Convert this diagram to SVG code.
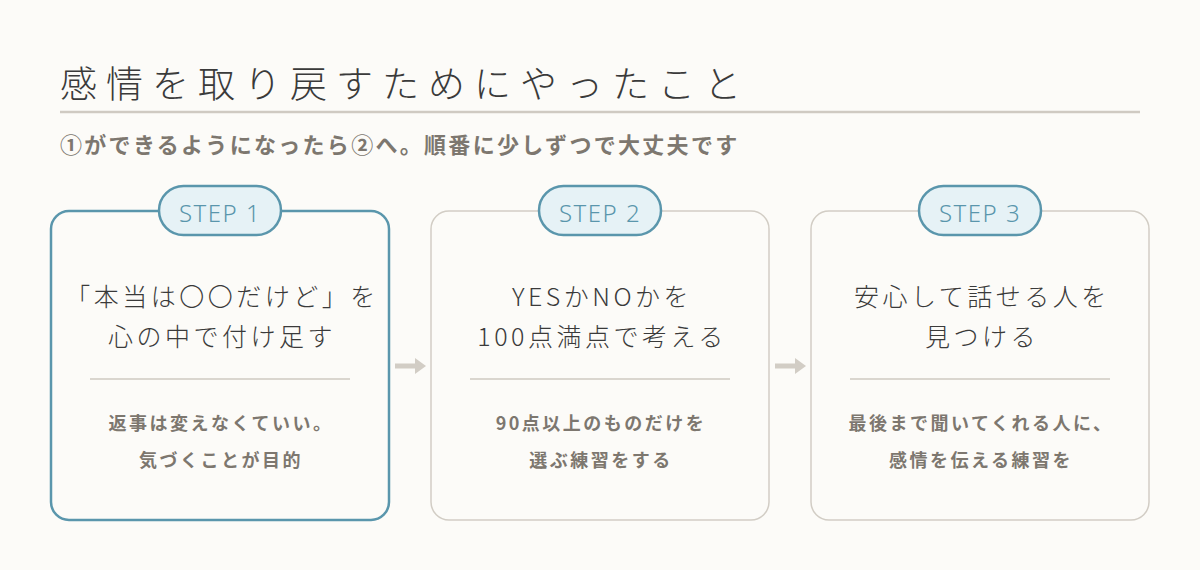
<svg xmlns="http://www.w3.org/2000/svg" width="1200" height="570" viewBox="0 0 1200 570">
<style>
.t{font-family:"Noto Sans CJK JP","Noto Sans",sans-serif}
.card{fill:#fcfbf8;stroke:#d2cdc5;stroke-width:1.5}
.act{stroke:#5a96ac;stroke-width:2.5}
.pill{fill:#e6f2f6;stroke:#5a96ac;stroke-width:2.5}
.pt{font-family:"Noto Sans","Noto Sans CJK JP",sans-serif;font-weight:300;font-size:24px;fill:#5a96ac;text-anchor:middle;letter-spacing:1.5px}
.main{font-size:25px;font-weight:300;fill:#3a3a3a;text-anchor:middle;letter-spacing:3.5px}
.sub{font-size:18px;font-weight:bold;fill:#7d776f;text-anchor:middle;letter-spacing:2.5px}
.div{stroke:#cfcac2;stroke-width:1.5}
</style>
<defs><marker id="ah" markerWidth="11" markerHeight="16" refX="0" refY="8" orient="auto" markerUnits="userSpaceOnUse"><path d="M0,0 L11,8 L0,16 Z" fill="#d2cdc5"/></marker></defs>
<rect width="1200" height="570" fill="#fcfbf8"/>
<text class="t" x="60" y="98" font-size="37" font-weight="300" fill="#3a3a3a" letter-spacing="9">感情を取り戻すためにやったこと</text>
<line x1="60" y1="112" x2="1140" y2="112" stroke="#cfcac2" stroke-width="2.5"/>
<text class="t" x="60" y="153" font-size="22" font-weight="bold" fill="#7d776f" letter-spacing="2.3">①ができるようになったら②へ。順番に少しずつで大丈夫です</text>
<g id="connectors">
<line x1="395" y1="366" x2="415" y2="366" stroke="#d2cdc5" stroke-width="5" marker-end="url(#ah)"/>
<line x1="775" y1="366" x2="795" y2="366" stroke="#d2cdc5" stroke-width="5" marker-end="url(#ah)"/>
</g>
<g id="step1">
<rect class="card act" x="51" y="211" width="338" height="309" rx="18"/>
<rect class="pill" x="159" y="186" width="122" height="49" rx="24.5"/>
<text class="pt" x="220" y="222">STEP 1</text>
<text class="t main" x="222" y="306">「本当は〇〇だけど」を</text>
<text class="t main" x="222" y="346">心の中で付け足す</text>
<line class="div" x1="90" y1="379" x2="350" y2="379"/>
<text class="t sub" x="221" y="430">返事は変えなくていい。</text>
<text class="t sub" x="221" y="467">気づくことが目的</text>
</g>
<g id="step2">
<rect class="card" x="431" y="211" width="338" height="309" rx="18"/>
<rect class="pill" x="539" y="186" width="122" height="49" rx="24.5"/>
<text class="pt" x="600" y="222">STEP 2</text>
<text class="t main" x="602" y="306">YESかNOかを</text>
<text class="t main" x="602" y="346">100点満点で考える</text>
<line class="div" x1="470" y1="379" x2="730" y2="379"/>
<text class="t sub" x="601" y="430">90点以上のものだけを</text>
<text class="t sub" x="601" y="467">選ぶ練習をする</text>
</g>
<g id="step3">
<rect class="card" x="811" y="211" width="338" height="309" rx="18"/>
<rect class="pill" x="919" y="186" width="122" height="49" rx="24.5"/>
<text class="pt" x="980" y="222">STEP 3</text>
<text class="t main" x="982" y="306">安心して話せる人を</text>
<text class="t main" x="982" y="346">見つける</text>
<line class="div" x1="850" y1="379" x2="1110" y2="379"/>
<text class="t sub" x="981" y="430">最後まで聞いてくれる人に、</text>
<text class="t sub" x="981" y="467">感情を伝える練習を</text>
</g>
</svg>
